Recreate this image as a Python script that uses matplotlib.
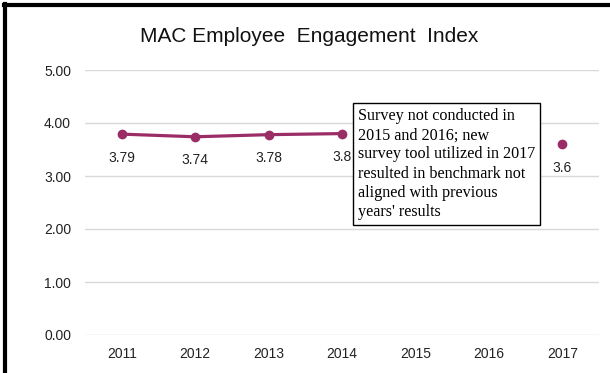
import matplotlib
matplotlib.use("Agg")
import matplotlib.pyplot as plt
import numpy as np
from matplotlib.lines import Line2D

years = ["2011", "2012", "2013", "2014", "2015", "2016", "2017"]
scores = [3.79, 3.74, 3.78, 3.8, np.nan, np.nan, 3.6]
score_labels = ["3.79", "3.74", "3.78", "3.8", "", "", "3.6"]
yticks = [0, 1, 2, 3, 4, 5]
note = ("Survey not conducted in\n2015 and 2016; new\nsurvey tool utilized in 2017\n"
        "resulted in benchmark not\naligned with previous\nyears' results")

plt.rcParams["font.family"] = ["Liberation Sans", "DejaVu Sans"]
maroon = "#9B2D66"

fig = plt.figure(figsize=(6.1, 3.73), dpi=100)
ax = fig.add_axes([85/610, 1 - 335/373, (599 - 85)/610, (335 - 70)/373])

x = np.arange(len(years))
ax.plot(x, scores, color=maroon, lw=2.3, marker="o", ms=6, solid_capstyle="round", zorder=3)

for xi, v, lab in zip(x, scores, score_labels):
    if lab:
        ax.annotate(lab, (xi, v), xytext=(0, -17), textcoords="offset points",
                    ha="center", va="center", fontsize=10, color="#222222")

ax.set_xlim(-0.5, len(years) - 0.5)
ax.set_ylim(0, 5)
ax.set_xticks(x)
ax.set_xticklabels(years)
ax.set_yticks(yticks)
ax.set_yticklabels([f"{t:.2f}" for t in yticks])
ax.tick_params(axis="both", length=0, labelsize=10, colors="#222222")
ax.tick_params(axis="y", pad=10)
ax.tick_params(axis="x", pad=9)
ax.grid(axis="y", color="#d9d9d9", lw=1)
ax.set_axisbelow(True)
for s in ax.spines.values():
    s.set_visible(False)

fig.text(309/610, 1 - 37/373, "MAC Employee  Engagement  Index", ha="center", va="center",
         fontsize=15, color="#111111")

fig.text(358/610, 1 - 108/373, note, ha="left", va="top", fontsize=11.6,
         family=["Liberation Serif", "DejaVu Serif"], linespacing=1.27, zorder=5,
         bbox=dict(boxstyle="square,pad=0.3", fc="white", ec="black", lw=1))

# black frame on top and left edges
fig.add_artist(Line2D([4/610, 1], [1 - 5/373, 1 - 5/373], color="black", lw=3,
                      transform=fig.transFigure))
fig.add_artist(Line2D([5/610, 5/610], [0, 1 - 4/373], color="black", lw=3,
                      transform=fig.transFigure))

fig.savefig("out.png", dpi=100)
